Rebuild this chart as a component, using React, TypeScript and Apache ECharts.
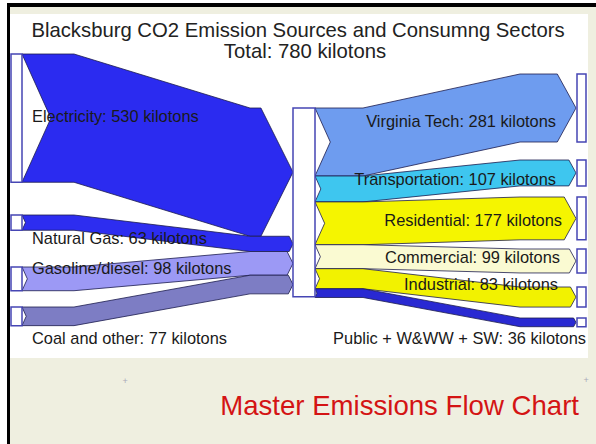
import React, { useEffect, useRef } from "react";
import * as echarts from "echarts";

// ---------- data ----------
const titleText = "Blacksburg CO2 Emission Sources and Consumng Sectors";
const totalValue = 780;
const unitText = "kilotons";
const footerText = "Master Emissions Flow Chart";

const sourceNames = ["Electricity", "Natural Gas", "Gasoline/diesel", "Coal and other"];
const sourceValues = [530, 63, 98, 77];

const sectorNames = [
  "Virginia Tech",
  "Transportation",
  "Residential",
  "Commercial",
  "Industrial",
  "Public + W&WW + SW",
];
const sectorValues = [281, 107, 177, 99, 83, 36];

// ---------- styles / layout ----------
const sourceColors = ["#2b2bf0", "#2d2df0", "#9c99f5", "#7d7dc4"];
const sectorColors = ["#6e9cef", "#3ec6ef", "#f5f500", "#fafad2", "#f2f200", "#2929d2"];

const W = 596;
const H = 444;
const PX_PER_KT = 0.242;
const FONT = "'Liberation Sans', Arial, Helvetica, sans-serif";

const srcTop = [54, 215, 267, 307];
const dstTop = [74, 160, 197, 249, 287, 318];
const CENTER_TOP = 108;
const SRC_BOX = [11, 22];
const CENTER_BOX = [293, 315];
const DST_BOX = [577, 586];

const srcLabelPos = [
  [32, 116],
  [32, 238],
  [32, 268],
  [32, 338],
];
const dstLabelPos = [
  [556, 121],
  [556, 179],
  [562, 220],
  [560, 257],
  [558, 284],
  [586, 338],
];

const bandStroke = "#1c1c4e";
const boxStroke = "#4646b4";
const labelColor = "#1a1a1a";
const LABEL_FONT = `16.4px ${FONT}`;

function cumBefore(arr: number[], i: number) {
  let s = 0;
  for (let k = 0; k < i; k++) s += arr[k];
  return s;
}

export default function App() {
  const ref = useRef<HTMLDivElement>(null);

  useEffect(() => {
    if (!ref.current) return;
    const chart = echarts.init(ref.current, undefined, { renderer: "svg" });

    const sizeOf = (api: any, v: number) => Math.abs(api.size([0, v])[1]);

    const option: any = {
      animation: false,
      backgroundColor: "#efefe0",
      grid: { left: 0, right: 0, top: 0, bottom: 0, show: false },
      xAxis: { type: "value", min: 0, max: W, show: false },
      yAxis: { type: "value", min: 0, max: H / PX_PER_KT, inverse: true, show: false },
      graphic: [
        { type: "rect", z: -5, shape: { x: 0, y: 0, width: W, height: 3 }, style: { fill: "#ffffff" } },
        { type: "rect", z: -5, shape: { x: 0, y: 0, width: 7, height: H }, style: { fill: "#ffffff" } },
        { type: "rect", z: -4, shape: { x: 7, y: 3, width: W - 7, height: 4 }, style: { fill: "#000000" } },
        { type: "rect", z: -4, shape: { x: 7, y: 3, width: 3, height: H - 3 }, style: { fill: "#000000" } },
        { type: "rect", z: -4, shape: { x: 10, y: 14, width: 578, height: 344 }, style: { fill: "#ffffff" } },
        {
          type: "text",
          z: 10,
          x: 298,
          y: 30,
          style: {
            text: titleText,
            fill: "#222222",
            font: `20.3px ${FONT}`,
            align: "center",
            verticalAlign: "middle",
          },
        },
        {
          type: "text",
          z: 10,
          x: 305,
          y: 51,
          style: {
            text: `Total: ${totalValue} ${unitText}`,
            fill: "#222222",
            font: `20.3px ${FONT}`,
            align: "center",
            verticalAlign: "middle",
          },
        },
        {
          type: "text",
          z: 10,
          x: 579,
          y: 405,
          style: {
            text: footerText,
            fill: "#d41414",
            font: `27.6px ${FONT}`,
            align: "right",
            verticalAlign: "middle",
          },
        },
        {
          type: "text",
          z: 10,
          x: 125,
          y: 381,
          style: { text: "+", fill: "#a8a8b8", font: `9px ${FONT}`, align: "center", verticalAlign: "middle" },
        },
        {
          type: "text",
          z: 10,
          x: 586,
          y: 380,
          style: { text: "+", fill: "#a8a8b8", font: `9px ${FONT}`, align: "center", verticalAlign: "middle" },
        },
      ],
      series: [
        {
          type: "custom",
          name: "sources",
          coordinateSystem: "cartesian2d",
          clip: false,
          data: sourceValues.map((v, i) => [i, v]),
          renderItem: (params: any, api: any) => {
            const i = params.dataIndex;
            const v = api.value(1) as number;
            const t = sizeOf(api, v);
            const yc = CENTER_TOP + sizeOf(api, cumBefore(sourceValues, i));
            const ys = srcTop[i];
            const x0 = SRC_BOX[1];
            const x1 = CENTER_BOX[0];
            const h = t / 2;
            const notch = 0.45 * h;
            const tip = 0.5 * h;
            const a = x0 + 52;
            const b = 250;
            const pts = [
              [x0, ys],
              [a, ys],
              [b, yc],
              [x1 - tip, yc],
              [x1, yc + h],
              [x1 - tip, yc + t],
              [b, yc + t],
              [a, ys + t],
              [x0, ys + t],
              [x0 + notch, ys + h],
            ];
            return {
              type: "group",
              children: [
                {
                  type: "polygon",
                  shape: { points: pts },
                  style: { fill: sourceColors[i], stroke: bandStroke, lineWidth: 0.8 },
                },
                {
                  type: "rect",
                  shape: { x: SRC_BOX[0], y: ys, width: SRC_BOX[1] - SRC_BOX[0], height: t },
                  style: { fill: "#ffffff", stroke: boxStroke, lineWidth: 1.5 },
                },
                {
                  type: "text",
                  z2: 100,
                  x: srcLabelPos[i][0],
                  y: srcLabelPos[i][1],
                  style: {
                    text: `${sourceNames[i]}: ${v} ${unitText}`,
                    fill: labelColor,
                    font: LABEL_FONT,
                    align: "left",
                    verticalAlign: "middle",
                  },
                },
              ],
            };
          },
        },
        {
          type: "custom",
          name: "sectors",
          coordinateSystem: "cartesian2d",
          clip: false,
          data: sectorValues.map((v, i) => [i, v]),
          renderItem: (params: any, api: any) => {
            const i = params.dataIndex;
            const v = api.value(1) as number;
            const t = sizeOf(api, v);
            const yc = CENTER_TOP + sizeOf(api, cumBefore(sectorValues, i));
            const ye = dstTop[i];
            const x0 = CENTER_BOX[1];
            const x1 = DST_BOX[0] - 1;
            const h = t / 2;
            const notch = 0.45 * h;
            const tip = 0.55 * h;
            const a = x0 + 48;
            const b = 520;
            const pts = [
              [x0, yc],
              [a, yc],
              [b, ye],
              [x1 - tip, ye],
              [x1, ye + h],
              [x1 - tip, ye + t],
              [b, ye + t],
              [a, yc + t],
              [x0, yc + t],
              [x0 + notch, yc + h],
            ];
            return {
              type: "group",
              children: [
                {
                  type: "polygon",
                  shape: { points: pts },
                  style: { fill: sectorColors[i], stroke: bandStroke, lineWidth: 0.8 },
                },
                {
                  type: "rect",
                  shape: { x: DST_BOX[0], y: ye, width: DST_BOX[1] - DST_BOX[0], height: t },
                  style: { fill: "#ffffff", stroke: boxStroke, lineWidth: 1.5 },
                },
                {
                  type: "text",
                  z2: 100,
                  x: dstLabelPos[i][0],
                  y: dstLabelPos[i][1],
                  style: {
                    text: `${sectorNames[i]}: ${v} ${unitText}`,
                    fill: labelColor,
                    font: LABEL_FONT,
                    align: "right",
                    verticalAlign: "middle",
                  },
                },
              ],
            };
          },
        },
        {
          type: "custom",
          name: "center",
          coordinateSystem: "cartesian2d",
          clip: false,
          data: [[0, totalValue]],
          renderItem: (_params: any, api: any) => {
            const t = sizeOf(api, api.value(1) as number);
            return {
              type: "rect",
              shape: {
                x: CENTER_BOX[0],
                y: CENTER_TOP,
                width: CENTER_BOX[1] - CENTER_BOX[0],
                height: t,
              },
              style: { fill: "#ffffff", stroke: boxStroke, lineWidth: 1.5 },
            };
          },
        },
      ],
    };

    chart.setOption(option);
    return () => chart.dispose();
  }, []);

  return (
    <div
      ref={ref}
      style={{ position: "fixed", left: 0, top: 0, width: W, height: H }}
    />
  );
}
